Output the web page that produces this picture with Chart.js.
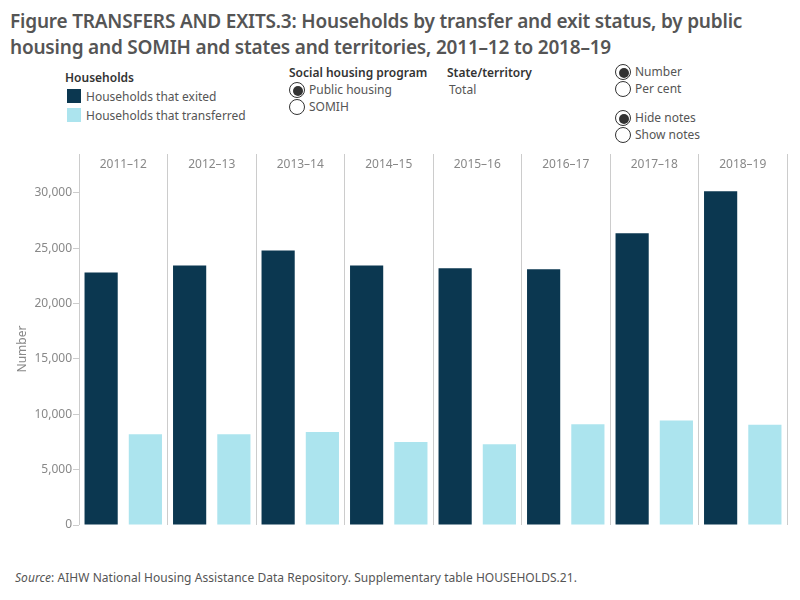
<!DOCTYPE html>
<html>
<head>
<meta charset="utf-8">
<script src="https://cdn.jsdelivr.net/npm/chart.js@4"></script>
<style>
  body { margin: 0; width: 800px; height: 600px; background: #fff; font-family: "Noto Sans", sans-serif; color: #555; position: relative; overflow: hidden; }
  .abs { position: absolute; white-space: nowrap; }
  #title { left: 10px; top: 8px; font-size: 19px; font-weight: 600; line-height: 26px; color: #555; letter-spacing: -0.2px; }
  .hdr { font-size: 12px; font-weight: 600; color: #333; }
  .lbl { font-size: 12px; color: #555; }
  .sw { width: 14px; height: 14px; }
  .radio { width: 16px; height: 16px; border: 1.5px solid #333; border-radius: 50%; background: #fff; box-sizing: border-box; }
  .radio.on::after { content: ""; position: absolute; left: 3px; top: 3px; width: 10px; height: 10px; border-radius: 50%; background: #333; }
  #chartBox { position: absolute; left: 0; top: 140px; width: 800px; height: 400px; }
  #source { left: 15px; top: 569px; font-size: 12px; color: #555; letter-spacing: 0.05px; }
</style>
</head>
<body>
<div id="title" class="abs">Figure TRANSFERS AND EXITS.3: Households by transfer and exit status, by public<br>housing and SOMIH and states and territories, 2011–12 to 2018–19</div>

<div class="abs hdr" style="left:65px; top:69px;">Households</div>
<div class="abs sw" style="left:67px; top:89px; background:#0b3750;"></div>
<div class="abs lbl" style="left:86px; top:88px;">Households that exited</div>
<div class="abs sw" style="left:67px; top:108px; background:#ace4ee;"></div>
<div class="abs lbl" style="left:86px; top:107px;">Households that transferred</div>

<div class="abs hdr" style="left:289px; top:64px;">Social housing program</div>
<div class="abs radio on" style="left:289px; top:82px;"></div>
<div class="abs lbl" style="left:309px; top:81px;">Public housing</div>
<div class="abs radio" style="left:289px; top:99px;"></div>
<div class="abs lbl" style="left:309px; top:98px;">SOMIH</div>

<div class="abs hdr" style="left:447px; top:64px;">State/territory</div>
<div class="abs lbl" style="left:449px; top:81px;">Total</div>

<div class="abs radio on" style="left:615px; top:64px;"></div>
<div class="abs lbl" style="left:635px; top:63px;">Number</div>
<div class="abs radio" style="left:615px; top:81px;"></div>
<div class="abs lbl" style="left:635px; top:80px;">Per cent</div>
<div class="abs radio on" style="left:615px; top:110px;"></div>
<div class="abs lbl" style="left:635px; top:109px;">Hide notes</div>
<div class="abs radio" style="left:615px; top:127px;"></div>
<div class="abs lbl" style="left:635px; top:126px;">Show notes</div>

<div id="chartBox"><canvas id="chart"></canvas></div>

<div id="source" class="abs"><i>Source</i>: AIHW National Housing Assistance Data Repository. Supplementary table HOUSEHOLDS.21.</div>

<script>
// 数据
const years = ['2011–12', '2012–13', '2013–14', '2014–15', '2015–16', '2016–17', '2017–18', '2018–19'];
const exited = [22800, 23450, 24800, 23450, 23200, 23100, 26350, 30150];
const transferred = [8200, 8200, 8400, 7500, 7300, 9100, 9450, 9050];
const yTicks = [0, 5000, 10000, 15000, 20000, 25000, 30000];

const ctx = document.getElementById('chart').getContext('2d');
const chart = new Chart(ctx, {
    type: 'bar',
    data: {
        labels: years,
        datasets: [{
            label: 'Households that exited',
            data: exited,
            backgroundColor: '#0b3750'
        }, {
            label: 'Households that transferred',
            data: transferred,
            backgroundColor: '#ace4ee'
        }]
    },
    options: {
        responsive: true,
        maintainAspectRatio: false,
        animation: false,
        categoryPercentage: 1,
        barPercentage: 0.75,
        layout: {
            padding: { top: 14, right: 13, bottom: 15, left: 0 }
        },
        plugins: {
            legend: { display: false },
            tooltip: { enabled: false }
        },
        scales: {
            x: {
                position: 'top',
                afterFit: s => { s.height = 19; },
                border: { display: false },
                grid: {
                    color: '#cccccc',
                    tickLength: 19
                },
                ticks: {
                    color: '#888',
                    padding: -18,
                    font: { family: 'Noto Sans', size: 12 }
                }
            },
            y: {
                min: 0,
                max: 31800,
                afterFit: s => { s.width = 79; },
                afterBuildTicks: s => { s.ticks = yTicks.map(v => ({ value: v })); },
                border: { display: false },
                grid: {
                    drawOnChartArea: false,
                    color: '#cccccc',
                    tickLength: 6
                },
                ticks: {
                    color: '#888',
                    padding: 1,
                    font: { family: 'Noto Sans', size: 12 },
                    callback: v => v.toLocaleString('en-US')
                },
                title: {
                    display: true,
                    text: 'Number',
                    color: '#888',
                    padding: { top: 15, bottom: 0 },
                    font: { family: 'Noto Sans', size: 12 }
                }
            }
        }
    }
});
</script>
</body>
</html>
